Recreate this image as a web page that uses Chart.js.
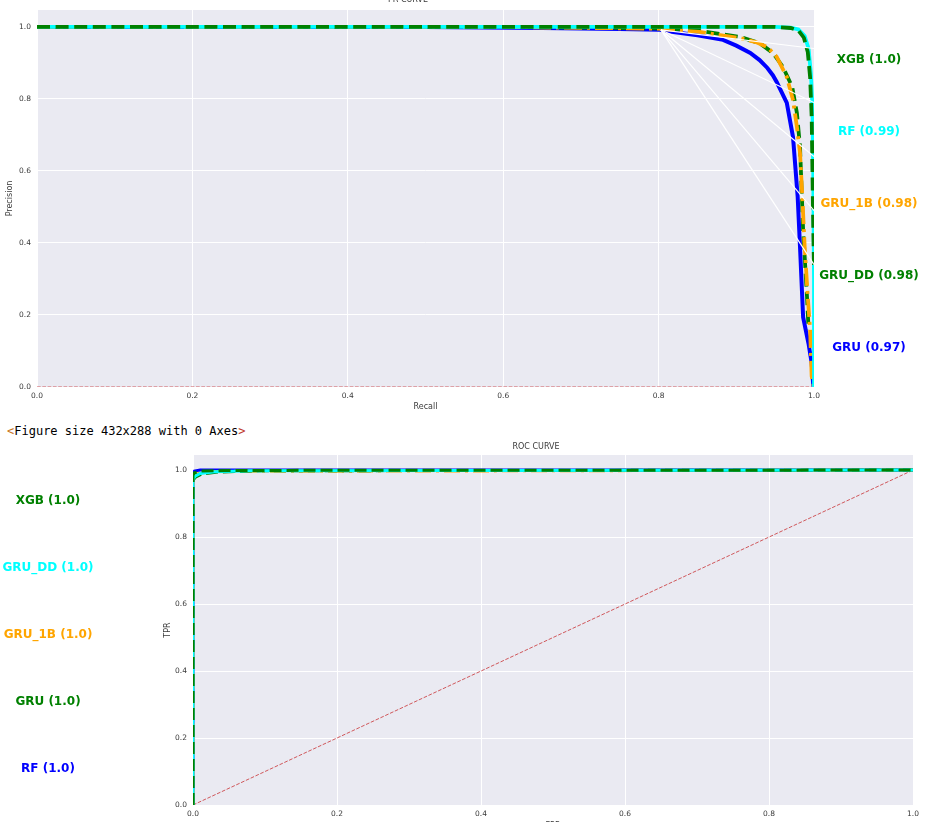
<!DOCTYPE html>
<html><head><meta charset="utf-8">
<script src="https://cdn.jsdelivr.net/npm/chart.js@4/dist/chart.umd.min.js"></script>
<style>
html,body{margin:0;padding:0;width:927px;height:822px;overflow:hidden;background:#fff;}
canvas{position:absolute;left:0;}
.lbl{position:absolute;font:bold 12px "DejaVu Sans";white-space:nowrap;transform:translate(-50%,-50%);}
#fig{position:absolute;left:7px;top:423px;font:12px "DejaVu Sans Mono";color:#000;white-space:pre;line-height:16px;}
</style></head><body>
<canvas id="pr" width="927" height="428" style="top:-8px"></canvas>
<div id="fig"><span style="color:#c8741a">&lt;</span>Figure size 432x288 with 0 Axes<span style="color:#c0392b">&gt;</span></div>
<canvas id="roc" width="927" height="400" style="top:436px"></canvas>
<div id="labels"></div>
<script>
// ---------- data ----------
const tickValues = [0, 0.2, 0.4, 0.6, 0.8, 1.0];

// PR curve series (recall, precision)
const gruRecall      = [0, 0.5, 0.65, 0.75, 0.802, 0.819, 0.85, 0.883, 0.9, 0.918, 0.93, 0.94, 0.947, 0.952, 0.958, 0.965, 0.973, 0.979, 0.982, 0.986, 0.993, 0.997, 0.999, 1.0];
const gruPrecision   = [1.0, 1.0, 0.997, 0.994, 0.992, 0.986, 0.977, 0.964, 0.948, 0.928, 0.908, 0.886, 0.866, 0.847, 0.82, 0.789, 0.694, 0.528, 0.389, 0.194, 0.12, 0.067, 0.006, 0.0];
const gruDDRecall    = [0, 0.6, 0.8, 0.85, 0.905, 0.93, 0.947, 0.96, 0.972, 0.978, 0.982, 0.986, 0.991, 0.993];
const gruDDPrecision = [1.0, 1.0, 0.996, 0.99, 0.972, 0.955, 0.928, 0.889, 0.833, 0.761, 0.667, 0.436, 0.25, 0.16];
const gru1BRecall    = [0, 0.6, 0.8, 0.853, 0.905, 0.925, 0.94, 0.952, 0.965, 0.973, 0.978, 0.982, 0.985, 0.988, 0.992, 0.995, 0.997, 1.0];
const gru1BPrecision = [1.0, 1.0, 0.995, 0.986, 0.969, 0.958, 0.944, 0.917, 0.861, 0.797, 0.722, 0.65, 0.528, 0.389, 0.25, 0.158, 0.03, 0.0];
const rfRecall       = [0, 0.95, 0.97, 0.98, 0.988, 0.993, 0.996, 0.998, 0.999, 1.0, 1.0];
const rfPrecision    = [1.0, 1.0, 0.998, 0.993, 0.975, 0.94, 0.87, 0.78, 0.6, 0.3, 0.0];
const xgbRecall      = [0, 0.95, 0.97, 0.98, 0.987, 0.992, 0.995, 0.997, 0.998, 0.999, 1.0];
const xgbPrecision   = [1.0, 1.0, 0.997, 0.99, 0.97, 0.93, 0.86, 0.75, 0.6, 0.45, 0.33];
const prBaselineRecall    = [0, 1];
const prBaselinePrecision = [0, 0];
// annotation pointer lines (from a common point toward each label)
const prArrowRecall     = [0.803, 1.0];
const prArrowStart      = 0.992;
const prArrowEnds       = [0.94, 0.79, 0.64, 0.49, 0.34];
const prLabels = ['XGB (1.0)', 'RF (0.99)', 'GRU_1B (0.98)', 'GRU_DD (0.98)', 'GRU (0.97)'];
const prLabelColors = ['#008000', '#00ffff', '#ffa500', '#008000', '#0000ff'];

// ROC curve series (fpr, tpr)
const rocRfFpr    = [0, 0, 0.002, 0.01, 1];
const rocRfTpr    = [0, 0.99, 0.997, 1.0, 1.0];
const rocGruDDFpr = [0, 0, 0.003, 0.01, 0.03, 0.08, 1];
const rocGruDDTpr = [0, 0.972, 0.982, 0.99, 0.995, 0.998, 1];
const rocGru1BFpr = [0, 0, 0.003, 0.01, 0.03, 1];
const rocGru1BTpr = [0, 0.975, 0.985, 0.992, 0.996, 1];
const rocGruFpr   = [0, 0, 0.004, 0.012, 0.035, 0.1, 1];
const rocGruTpr   = [0, 0.97, 0.98, 0.988, 0.994, 0.998, 1];
const rocXgbFpr   = [0, 0, 0.002, 0.01, 0.05, 1];
const rocXgbTpr   = [0, 0.985, 0.992, 0.997, 0.999, 1];
const rocDiagFpr  = [0, 1];
const rocDiagTpr  = [0, 1];
const rocLabels = ['XGB (1.0)', 'GRU_DD (1.0)', 'GRU_1B (1.0)', 'GRU (1.0)', 'RF (1.0)'];
const rocLabelColors = ['#008000', '#00ffff', '#ffa500', '#008000', '#0000ff'];

// ---------- helpers ----------
const pts = (xs, ys) => xs.map((x, i) => ({x: x, y: ys[i]}));
const TXT = '#3a3a3a';
const FONT = 'DejaVu Sans';

function line(data, color, width, dash, order) {
  return {data: data, borderColor: color, borderWidth: width, borderDash: dash || [],
          pointRadius: 0, fill: false, tension: 0, order: order, borderCapStyle: 'butt'};
}

function axes(xTitle, yTitle, yMax, yWidth, xHeight, yTitlePad, xTitlePad) {
  const tickFont = {family: FONT, size: 7.5};
  return {
    x: {type: 'linear', min: 0, max: 1,
        afterBuildTicks: s => { s.ticks = tickValues.map(v => ({value: v})); },
        afterFit: s => { s.height = xHeight; },
        grid: {color: '#ffffff', lineWidth: 1, drawTicks: false},
        border: {display: false},
        ticks: {font: tickFont, color: TXT, padding: 5, maxRotation: 0,
                callback: v => v.toFixed(1)},
        title: {display: true, text: xTitle, font: {family: FONT, size: 8}, color: TXT,
                padding: {top: 0, bottom: xTitlePad}}},
    y: {type: 'linear', min: 0, max: yMax,
        afterBuildTicks: s => { s.ticks = tickValues.map(v => ({value: v})); },
        afterFit: s => { s.width = yWidth; },
        grid: {color: '#ffffff', lineWidth: 1, drawTicks: false},
        border: {display: false},
        ticks: {font: tickFont, color: TXT, padding: 6,
                callback: v => v.toFixed(1)},
        title: {display: true, text: yTitle, font: {family: FONT, size: 8}, color: TXT,
                padding: {top: yTitlePad, bottom: 0}}}
  };
}

const bgPlugin = {
  id: 'bg',
  beforeDraw(chart) {
    const a = chart.chartArea, c = chart.ctx;
    c.save(); c.fillStyle = '#eaeaf2';
    c.fillRect(a.left, a.top, a.right - a.left, a.bottom - a.top);
    c.restore();
  }
};

// ---------- PR chart ----------
const prDatasets = [
  line(pts(prBaselineRecall, prBaselinePrecision), '#d0585c', 1, [3.7, 1.6], 10),
  line(pts(gruRecall, gruPrecision), '#0000ff', 4, [], 9),
  line(pts(gruDDRecall, gruDDPrecision), '#008000', 3.8, [13, 5.6], 8),
  line(pts(gru1BRecall, gru1BPrecision), '#ffa500', 3.8, [18, 5, 3, 5], 7),
  line(pts(rfRecall, rfPrecision), '#00ffff', 3.8, [], 6),
  line(pts(xgbRecall, xgbPrecision), '#008000', 3.8, [13, 5.6], 5)
];
prArrowEnds.forEach((e, i) => {
  prDatasets.push(line(pts(prArrowRecall, [prArrowStart, e]), '#ffffff', 1.2, [], 1));
});

new Chart(document.getElementById('pr'), {
  type: 'line',
  data: {datasets: prDatasets},
  options: {
    responsive: false, animation: false, devicePixelRatio: 1,
    layout: {padding: {left: 2, right: 113, top: 0, bottom: 0}},
    plugins: {legend: {display: false}, tooltip: {enabled: false},
      title: {display: true, text: 'PR CURVE', font: {family: FONT, size: 8, weight: 'normal'},
              color: TXT, padding: {top: 3, bottom: 5.4}}},
    scales: axes('Recall', 'Precision', 1.047, 35, 33, 3.2, 8.2)
  },
  plugins: [bgPlugin]
});

// ---------- ROC chart ----------
const rocDatasets = [
  line(pts(rocDiagFpr, rocDiagTpr), '#d0585c', 1, [3.7, 1.6], 10),
  line(pts(rocRfFpr, rocRfTpr), '#0000ff', 3, [], 9),
  line(pts(rocGru1BFpr, rocGru1BTpr), '#ffa500', 3, [16, 5, 3, 5], 8),
  line(pts(rocGruFpr, rocGruTpr), '#008000', 3, [12, 5], 7),
  line(pts(rocGruDDFpr, rocGruDDTpr), '#00ffff', 3, [], 6),
  line(pts(rocXgbFpr, rocXgbTpr), '#008000', 3, [12, 5], 5)
];

new Chart(document.getElementById('roc'), {
  type: 'line',
  data: {datasets: rocDatasets},
  options: {
    responsive: false, animation: false, devicePixelRatio: 1,
    layout: {padding: {left: 159, right: 14, top: 0, bottom: 0}},
    plugins: {legend: {display: false}, tooltip: {enabled: false},
      title: {display: true, text: 'ROC CURVE', font: {family: FONT, size: 8, weight: 'normal'},
              color: TXT, padding: {top: 6, bottom: 3.4}}},
    scales: axes('FPR', 'TPR', 1.045, 34, 31, 4.2, 5.2)
  },
  plugins: [bgPlugin]
});

// ---------- outside labels ----------
const holder = document.getElementById('labels');
function addLabels(texts, colors, cx, y0, dy) {
  texts.forEach((t, i) => {
    const d = document.createElement('div');
    d.className = 'lbl'; d.textContent = t; d.style.color = colors[i];
    d.style.left = cx + 'px'; d.style.top = (y0 + i * dy) + 'px';
    holder.appendChild(d);
  });
}
addLabels(prLabels, prLabelColors, 869, 59, 72);
addLabels(rocLabels, rocLabelColors, 48, 500, 67);
</script>
</body></html>
